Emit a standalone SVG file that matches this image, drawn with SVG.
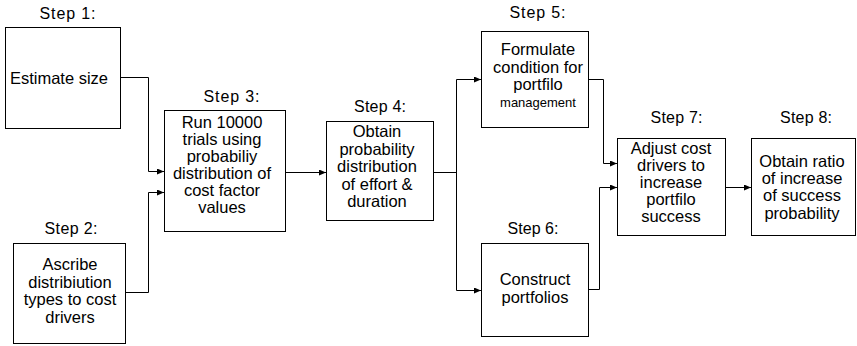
<svg xmlns="http://www.w3.org/2000/svg" width="857" height="346" viewBox="0 0 857 346">
  <style>
    .box { fill: #ffffff; stroke: #000000; stroke-width: 1; }
    .step { font-family: "Liberation Sans", Arial, sans-serif; font-size: 16px; fill: #000000; text-anchor: middle; }
    .txt { font-family: "Liberation Sans", Arial, sans-serif; font-size: 16.5px; fill: #000000; text-anchor: middle; }
    .small { font-size: 13px; }
    .wire { fill: none; stroke: #000000; stroke-width: 1; }
  </style>
  <defs>
    <marker id="arrow" markerUnits="userSpaceOnUse" markerWidth="8" markerHeight="8" refX="7" refY="3" orient="auto">
      <path d="M0,0 L7,3 L0,6 z" fill="#000000"/>
    </marker>
  </defs>
  <rect width="857" height="346" fill="#ffffff"/>

  <g id="connectors">
    <path class="wire" d="M120,77.5 H148.5 V171.5 H164" marker-end="url(#arrow)"/>
    <path class="wire" d="M126,292.5 H148.5 V192.5 H164" marker-end="url(#arrow)"/>
    <path class="wire" d="M286,172.5 H326" marker-end="url(#arrow)"/>
    <path class="wire" d="M434,172.5 H456.5"/>
    <path class="wire" d="M456.5,79.5 V290.5"/>
    <path class="wire" d="M456.5,79.5 H481" marker-end="url(#arrow)"/>
    <path class="wire" d="M456.5,290.5 H481" marker-end="url(#arrow)"/>
    <path class="wire" d="M589,79.5 H603.5 V163.5 H617" marker-end="url(#arrow)"/>
    <path class="wire" d="M589,289.5 H599.5 V187.5 H617" marker-end="url(#arrow)"/>
    <path class="wire" d="M726,187.5 H751" marker-end="url(#arrow)"/>
  </g>

  <g id="step1">
    <text class="step" x="67.5" y="19" textLength="56" lengthAdjust="spacing">Step 1:</text>
    <rect class="box" x="5.5" y="27.5" width="115" height="101"/>
    <text class="txt" x="59" y="84">Estimate size</text>
  </g>

  <g id="step2">
    <text class="step" x="71" y="234" textLength="53" lengthAdjust="spacing">Step 2:</text>
    <rect class="box" x="13.5" y="243.5" width="112" height="100"/>
    <text class="txt" x="70" y="270">Ascribe</text>
    <text class="txt" x="70" y="287.5">distribiution</text>
    <text class="txt" x="70" y="305">types to cost</text>
    <text class="txt" x="70" y="322.5">drivers</text>
  </g>

  <g id="step3">
    <text class="step" x="231.5" y="102" textLength="56" lengthAdjust="spacing">Step 3:</text>
    <rect class="box" x="164.5" y="110.5" width="121" height="121"/>
    <text class="txt" x="222" y="128">Run 10000</text>
    <text class="txt" x="222" y="145">trials using</text>
    <text class="txt" x="222" y="162">probabiliy</text>
    <text class="txt" x="222" y="179">distribution of</text>
    <text class="txt" x="222" y="196">cost factor</text>
    <text class="txt" x="222" y="213">values</text>
  </g>

  <g id="step4">
    <text class="step" x="380" y="112" textLength="52" lengthAdjust="spacing">Step 4:</text>
    <rect class="box" x="326.5" y="121.5" width="107" height="99"/>
    <text class="txt" x="377" y="137">Obtain</text>
    <text class="txt" x="377" y="154.5">probability</text>
    <text class="txt" x="377" y="172">distribution</text>
    <text class="txt" x="377" y="189.5">of effort &amp;</text>
    <text class="txt" x="377" y="207">duration</text>
  </g>

  <g id="step5">
    <text class="step" x="537.5" y="18" textLength="56" lengthAdjust="spacing">Step 5:</text>
    <rect class="box" x="481.5" y="31.5" width="107" height="96"/>
    <text class="txt" x="538" y="55">Formulate</text>
    <text class="txt" x="538" y="72.5">condition for</text>
    <text class="txt" x="538" y="89.5">portfilo</text>
    <text class="txt small" x="538" y="106.5">management</text>
  </g>

  <g id="step6">
    <text class="step" x="533" y="234" textLength="51" lengthAdjust="spacing">Step 6:</text>
    <rect class="box" x="481.5" y="243.5" width="107" height="93"/>
    <text class="txt" x="535" y="285">Construct</text>
    <text class="txt" x="535" y="302.5">portfolios</text>
  </g>

  <g id="step7">
    <text class="step" x="676.5" y="123" textLength="52" lengthAdjust="spacing">Step 7:</text>
    <rect class="box" x="617.5" y="138.5" width="108" height="97"/>
    <text class="txt" x="671" y="153.5">Adjust cost</text>
    <text class="txt" x="671" y="170.5">drivers to</text>
    <text class="txt" x="671" y="188">increase</text>
    <text class="txt" x="671" y="205">portfilo</text>
    <text class="txt" x="671" y="222">success</text>
  </g>

  <g id="step8">
    <text class="step" x="806" y="123" textLength="52" lengthAdjust="spacing">Step 8:</text>
    <rect class="box" x="751.5" y="138.5" width="104" height="97"/>
    <text class="txt" x="802" y="166.5">Obtain ratio</text>
    <text class="txt" x="802" y="184">of increase</text>
    <text class="txt" x="802" y="201">of success</text>
    <text class="txt" x="802" y="218.5">probability</text>
  </g>
</svg>
